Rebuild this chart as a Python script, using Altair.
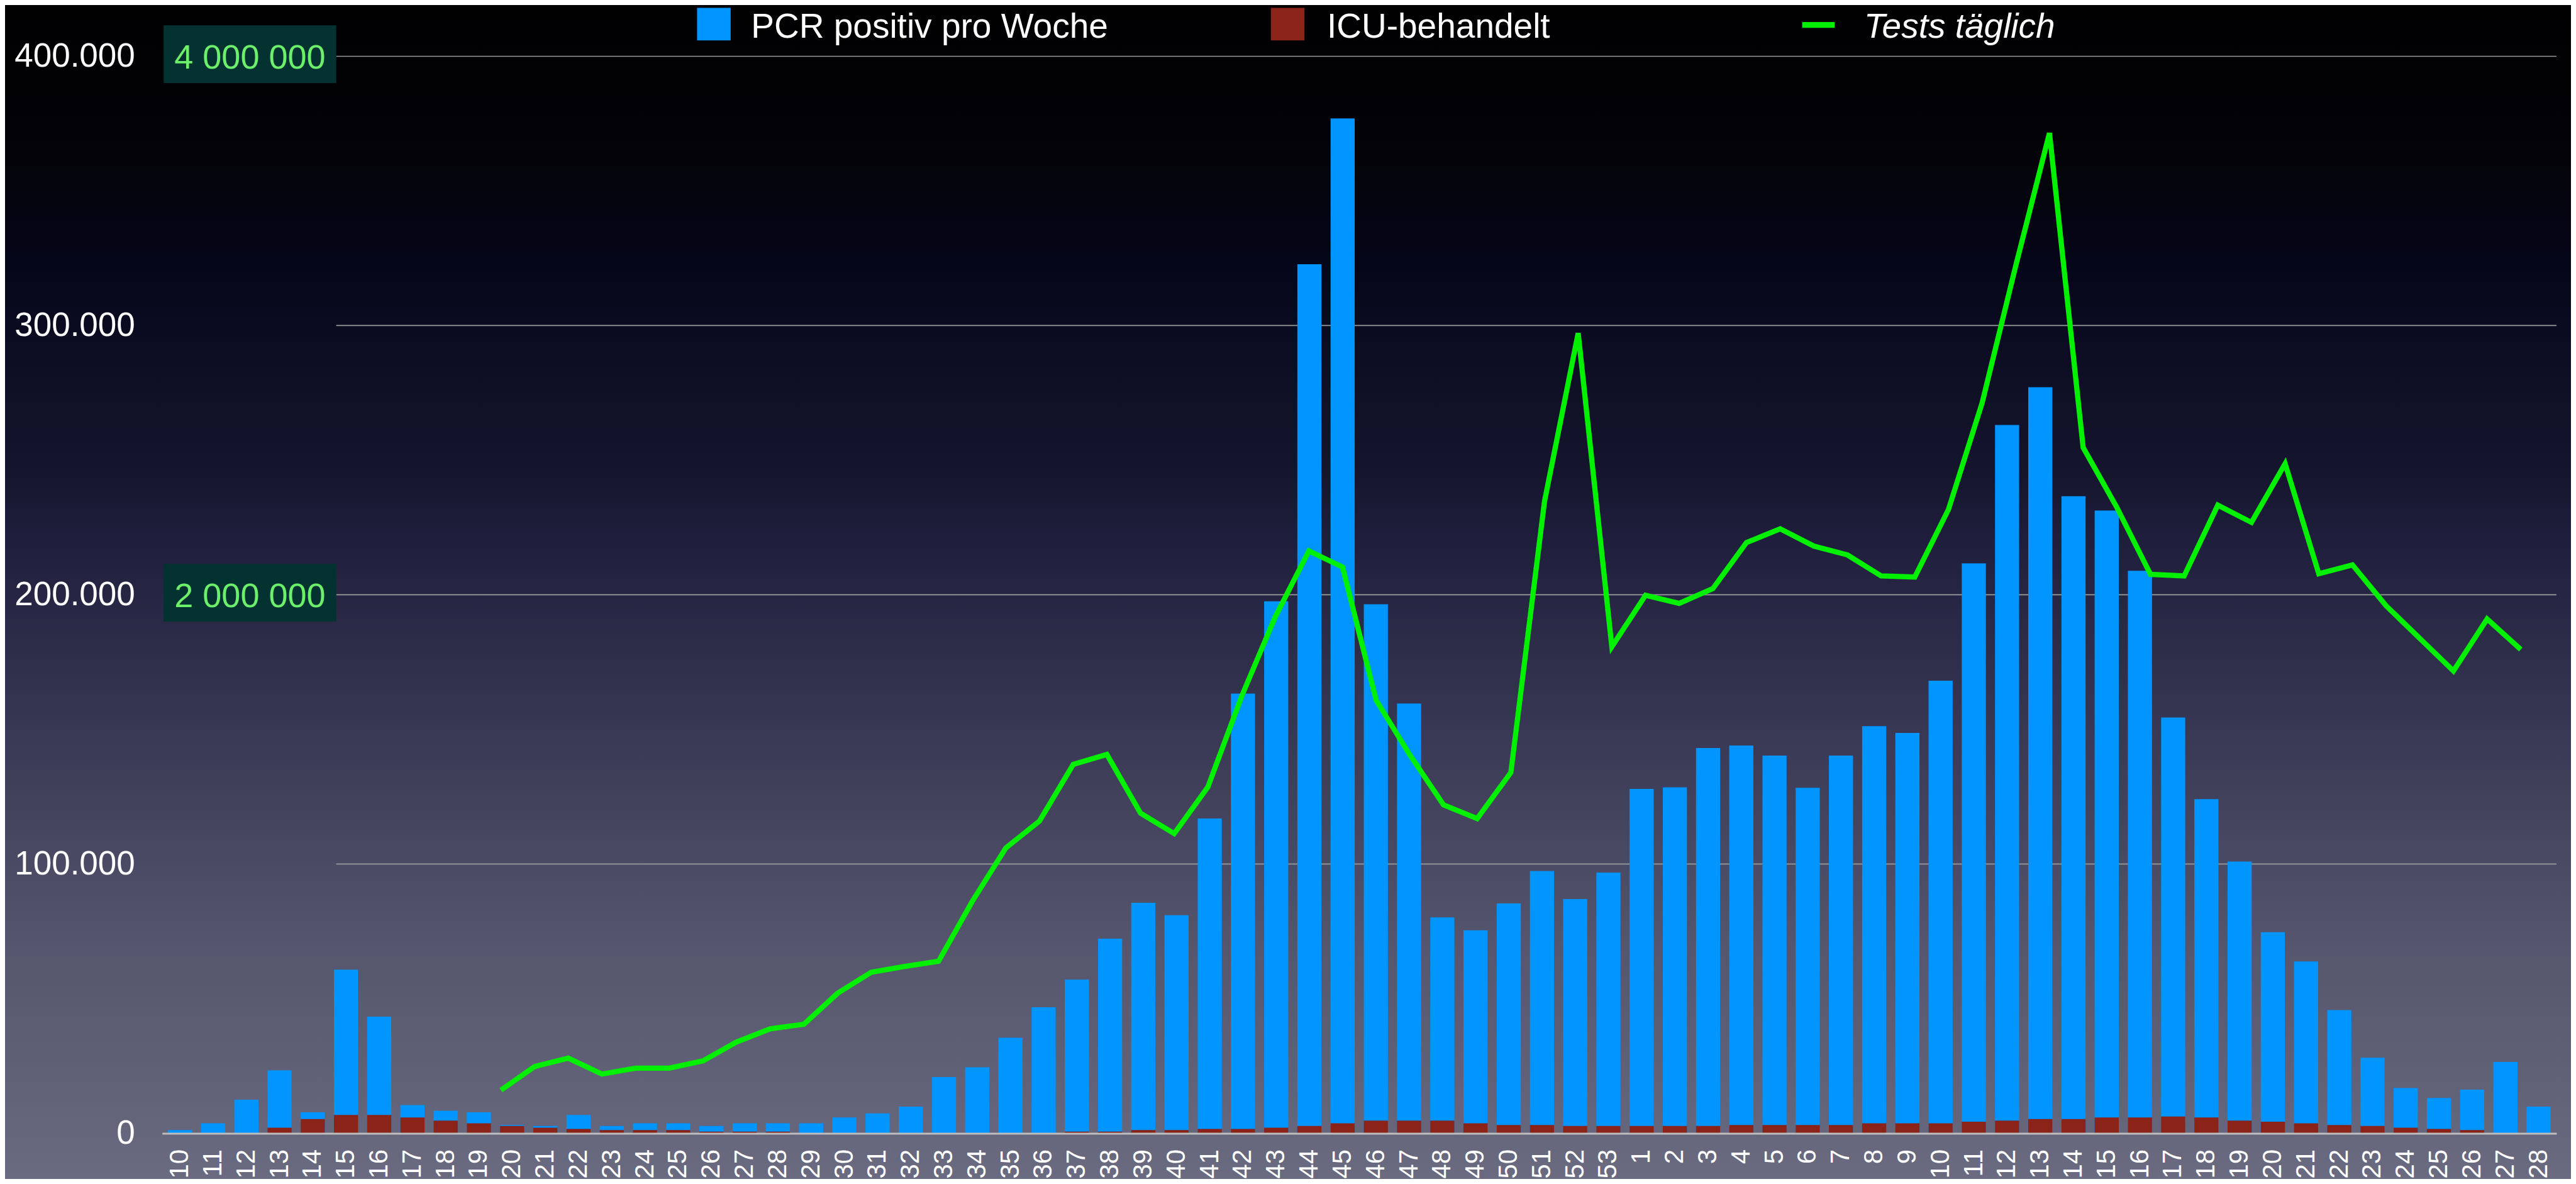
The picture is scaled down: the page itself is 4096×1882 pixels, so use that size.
import altair as alt
import pandas as pd

FONT = "Liberation Sans"

# ---------------- data ----------------
weeks_2020 = list(range(10, 54))
weeks_2021 = list(range(1, 29))
keys = [f"2020-{w}" for w in weeks_2020] + [f"2021-{w}" for w in weeks_2021]

pcr_2020 = [1200, 3700, 12500, 23400, 7800, 60800, 43300, 10500, 8400, 7800,
            3100, 2700, 6800, 2700, 3700, 3700, 2700, 3700, 3700, 3700,
            5900, 7400, 9900, 20900, 24500, 35500, 46800, 57100, 72300, 85600,
            81000, 116900, 163300, 197600, 322800, 376900, 196500, 159600, 80200, 75400,
            85400, 97400, 87000, 96800]
pcr_2021 = [127900, 128500, 143100, 144000, 140300, 128300, 140300, 151200, 148700, 168100,
            211700, 263100, 277100, 236600, 231300, 208900, 154400, 124100, 100900, 74700,
            63800, 45800, 28100, 16800, 13100, 16200, 26500, 9900]

icu_2020 = [0, 0, 0, 2100, 5300, 6800, 6800, 5900, 4700, 3700,
            2700, 2100, 1600, 1200, 1200, 1200, 600, 600, 600, 0,
            0, 0, 0, 0, 0, 0, 0, 600, 600, 1200,
            1200, 1600, 1600, 2100, 2700, 3700, 4700, 4700, 4700, 3700,
            3100, 3100, 2700, 2700]
icu_2021 = [2700, 2700, 2700, 3100, 3100, 3100, 3100, 3700, 3700, 3700,
            4300, 4700, 5300, 5300, 5900, 5900, 6200, 5900, 4700, 4300,
            3700, 3100, 2700, 2100, 1600, 1200, 0, 0]

line_keys = [f"2020-{w}" for w in range(20, 54)] + [f"2021-{w}" for w in range(1, 28)]
tests_daily = [160000, 248000, 279000, 220000, 242000, 242000, 269000, 339000, 388000, 405000,
               520000, 598000, 620000, 639000, 861000, 1060000, 1160000, 1370000, 1407000, 1189000,
               1113000, 1286000, 1622000, 1918000, 2163000, 2103000, 1608000, 1405000, 1220000, 1169000,
               1340000, 2347000, 2972000, 1807000, 1998000, 1968000, 2023000, 2194000, 2245000, 2181000,
               2148000, 2070000, 2066000, 2317000, 2713000, 3223000, 3715000, 2547000, 2325000, 2076000,
               2070000, 2333000, 2269000, 2487000, 2078000, 2111000, 1959000, 1838000, 1717000, 1910000,
               1797000]

y_ticks = [0, 100000, 200000, 300000, 400000]
grid_vals = [100000, 200000, 300000, 400000]
tests_ticks = [2000000, 4000000]
tests_tick_labels = ["2 000 000", "4 000 000"]
legend_labels = ["PCR positiv pro Woche", "ICU-behandelt", "Tests täglich"]

bars_df = pd.DataFrame({"key": keys, "pcr": pcr_2020 + pcr_2021, "icu": icu_2020 + icu_2021})
line_df = pd.DataFrame({"lkey": line_keys, "tests": tests_daily, "idx": list(range(len(line_keys)))})
grid_df = pd.DataFrame({"v": grid_vals})
box_df = pd.DataFrame({"t": tests_ticks, "label": tests_tick_labels})
one = pd.DataFrame({"a": [0]})

# ---------------- layout ----------------
W = 3807.2
H = 1711.9
PAD = {"left": 249.7, "top": 81.5, "right": 23.1, "bottom": 72.6}

yscale = alt.Scale(domain=[0, 400000], nice=False, zero=True)
yaxis = alt.Axis(values=y_ticks,
                 labelExpr="datum.value == 0 ? '0' : format(datum.value/1000, 'd') + '.000'",
                 labelFont=FONT, labelFontSize=53, labelColor="white", labelPadding=43.4,
                 labelLimit=600, ticks=False, domain=False, grid=False, zindex=1)


def Y(field):
    return alt.Y(field, type="quantitative", scale=yscale, axis=yaxis, title=None)


xscale = alt.Scale(domain=keys, paddingInner=0.274, paddingOuter=0.174)
xaxis = alt.Axis(labelExpr="split(datum.value, '-')[1]", labelAngle=270,
                 labelFont=FONT, labelFontSize=42, labelColor="white", labelPadding=25,
                 labelLimit=400, ticks=False, domain=True, domainColor="#bdbdbd", domainWidth=3,
                 grid=False, zindex=1)

# ---------------- layers ----------------
bg = alt.Chart(one).mark_rect(
    color=alt.Gradient(
        gradient="linear", x1=0, x2=0, y1=0, y2=1,
        stops=[
            alt.GradientStop(offset=0.0, color="#010102"),
            alt.GradientStop(offset=0.13, color="#030308"),
            alt.GradientStop(offset=0.22, color="#06061a"),
            alt.GradientStop(offset=0.40, color="#15152e"),
            alt.GradientStop(offset=0.45, color="#1e1e3c"),
            alt.GradientStop(offset=0.58, color="#32324f"),
            alt.GradientStop(offset=0.73, color="#4a4a64"),
            alt.GradientStop(offset=0.80, color="#55556d"),
            alt.GradientStop(offset=0.93, color="#626278"),
            alt.GradientStop(offset=1.0, color="#6a6a80"),
        ])
).encode(x=alt.value(-PAD["left"]), x2=alt.value(W + PAD["right"]),
         y=alt.value(-PAD["top"]), y2=alt.value(H + PAD["bottom"]))

grid = alt.Chart(grid_df).mark_rule(color="#9a9a9a", strokeWidth=1.7).encode(
    y=Y("v"), x=alt.value(276.9), x2=alt.value(W))

boxes = alt.Chart(box_df).transform_calculate(y="datum.t / 10").mark_rect(
    color="#033231", yOffset=-49.2, y2Offset=42.5
).encode(y=Y("y"), y2=alt.Y2("y"), x=alt.value(2.5), x2=alt.value(276.9))

box_text = alt.Chart(box_df).transform_calculate(y="datum.t / 10").mark_text(
    color="#6cf06c", font=FONT, fontSize=54, align="center", baseline="alphabetic", dy=19.8
).encode(y=Y("y"), x=alt.value(139.7), text="label:N")

blue = alt.Chart(bars_df).mark_bar(color="#0095ff").encode(
    x=alt.X("key:N", scale=xscale, axis=xaxis, title=None), y=Y("pcr"))
red = alt.Chart(bars_df).mark_bar(color="#8b2319").encode(
    x=alt.X("key:N", scale=xscale, axis=xaxis, title=None), y=Y("icu"))
bars = alt.layer(blue, red)

line = alt.Chart(line_df).transform_calculate(y="datum.tests / 10").mark_line(
    color="#00f000", strokeWidth=8.3
).encode(
    x=alt.X("lkey:N", scale=alt.Scale(type="point", domain=line_keys, range=[538.8, 3750.5], padding=0),
            axis=None),
    y=Y("y"),
    order=alt.Order("idx:Q"),
)

leg_blue_sq = alt.Chart(one).mark_rect(color="#0095ff").encode(
    x=alt.value(850.7), x2=alt.value(904.1), y=alt.value(-77.0), y2=alt.value(-25.3))
leg_red_sq = alt.Chart(one).mark_rect(color="#8b2319").encode(
    x=alt.value(1763.1), x2=alt.value(1816.5), y=alt.value(-77.0), y2=alt.value(-25.3))
leg_green = alt.Chart(one).mark_rect(color="#00f000").encode(
    x=alt.value(2607.9), x2=alt.value(2659.6), y=alt.value(-54.5), y2=alt.value(-45.3))

leg_text_style = dict(color="white", font=FONT, fontSize=55, align="left", baseline="alphabetic")
leg_t1 = alt.Chart(one).mark_text(text=legend_labels[0], **leg_text_style).encode(
    x=alt.value(936.6), y=alt.value(-29.5))
leg_t2 = alt.Chart(one).mark_text(text=legend_labels[1], **leg_text_style).encode(
    x=alt.value(1852.3), y=alt.value(-29.5))
leg_t3 = alt.Chart(one).mark_text(text=legend_labels[2], fontStyle="italic", **leg_text_style).encode(
    x=alt.value(2706.3), y=alt.value(-29.5))

chart = alt.layer(
    bg, grid, boxes, box_text, bars, line,
    leg_blue_sq, leg_red_sq, leg_green, leg_t1, leg_t2, leg_t3
).resolve_scale(x="independent").properties(
    width=W, height=H, padding=PAD, autosize="none", background="#000000"
).configure_view(strokeWidth=0)

chart.save("out.html", embed_options={"renderer": "svg", "actions": False})
